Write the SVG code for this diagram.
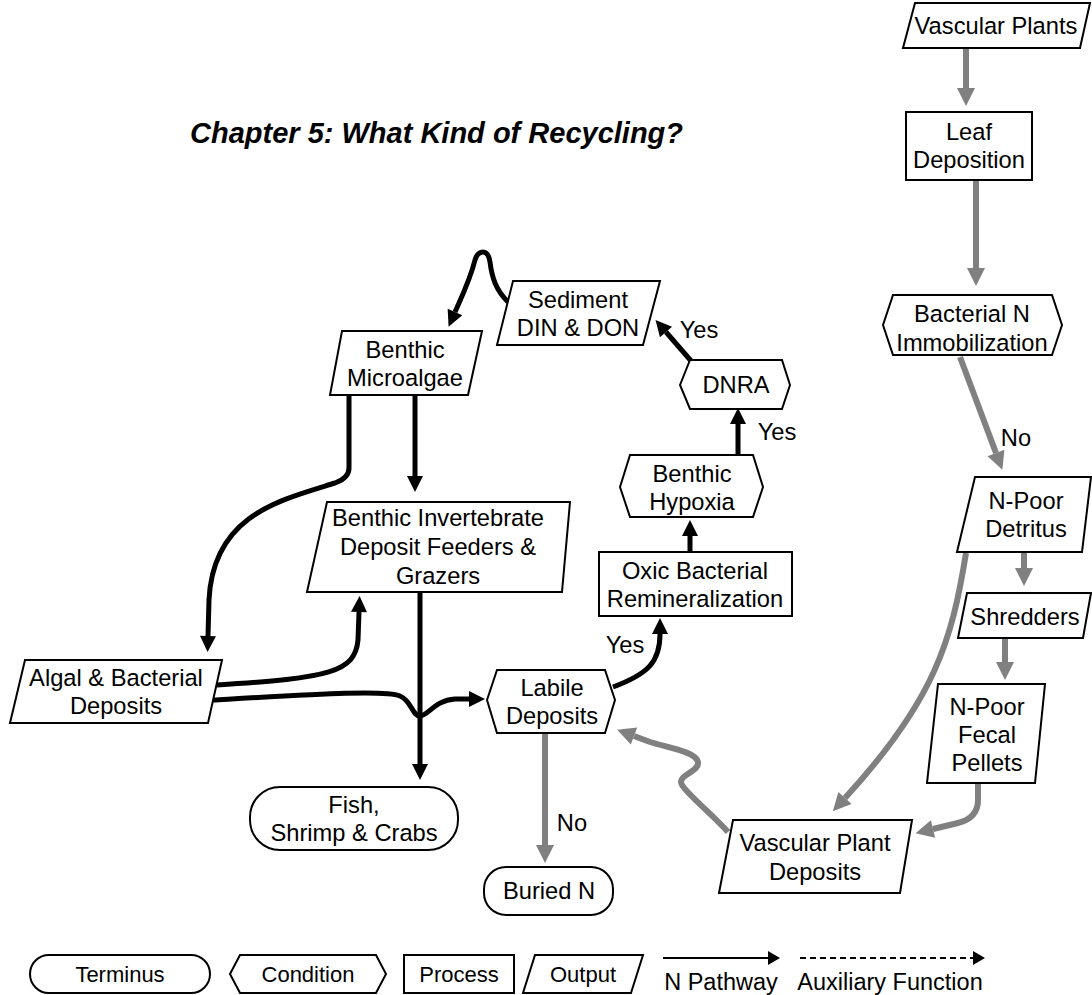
<svg xmlns="http://www.w3.org/2000/svg" width="1092" height="995" viewBox="0 0 1092 995">
  <style>
    .box { fill: #ffffff; stroke: #000000; stroke-width: 2; }
    .lbl { font-family: "Liberation Sans", Arial, sans-serif; font-size: 23.7px; fill: #000000; text-anchor: middle; }
    .lgd { font-family: "Liberation Sans", Arial, sans-serif; font-size: 22px; fill: #000000; text-anchor: middle; }
    .lgd2 { font-family: "Liberation Sans", Arial, sans-serif; font-size: 23.5px; fill: #000000; text-anchor: middle; }
    .title { font-family: "Liberation Sans", Arial, sans-serif; font-size: 29px; font-weight: bold; font-style: italic; fill: #000000; }
    .k { fill: none; stroke: #000000; stroke-width: 5; stroke-linejoin: round; }
    .g { fill: none; stroke: #808080; stroke-width: 6; stroke-linejoin: round; }
    .thin { fill: none; stroke: #000000; stroke-width: 2; }
  </style>
  <defs>
    <marker id="ak" markerUnits="userSpaceOnUse" markerWidth="18" markerHeight="18" viewBox="0 -9 17 18" refX="0" refY="0" orient="auto">
      <path d="M0,-8 L16,0 L0,8 z" fill="#000000"/>
    </marker>
    <marker id="ag" markerUnits="userSpaceOnUse" markerWidth="20" markerHeight="20" viewBox="0 -10 19 20" refX="0" refY="0" orient="auto">
      <path d="M0,-9 L18,0 L0,9 z" fill="#808080"/>
    </marker>
    <marker id="al" markerUnits="userSpaceOnUse" markerWidth="14" markerHeight="16" viewBox="0 -8 13 16" refX="0" refY="0" orient="auto">
      <path d="M0,-7 L12,0 L0,7 z" fill="#000000"/>
    </marker>
  </defs>

  <text class="title" x="190" y="143">Chapter 5: What Kind of Recycling?</text>

  <!-- connectors -->
  <g id="connectors">
    <!-- N pathway (black) -->
    <path class="k" marker-end="url(#ak)" d="M508,302 C496,290 492,278 490,262 C488,248 478,250 475,260 C470,280 462,296 455,312"/>
    <path class="k" marker-end="url(#ak)" d="M692,362 L666,332"/>
    <path class="k" marker-end="url(#ak)" d="M738,455 L738,424"/>
    <path class="k" marker-end="url(#ak)" d="M690,552 L690,536"/>
    <path class="k" marker-end="url(#ak)" d="M613,687 C648,674 660,662 660,634"/>
    <path class="k" marker-end="url(#ak)" d="M349,396 L349,468 Q349,478 335,483 C280,500 213,515 209,600 L208,636"/>
    <path class="k" marker-end="url(#ak)" d="M415,396 L415,476"/>
    <path class="k" marker-end="url(#ak)" d="M217,685 C330,678 355,672 358,640 L359,612"/>
    <path class="k" marker-end="url(#ak)" d="M420,593 L420,764"/>
    <path class="k" marker-end="url(#ak)" d="M213,700 C320,694 385,690 400,696 C412,701 412,716 420,716 C428,716 435,700 455,699 L469,699"/>
    <!-- vascular plant detritus (gray) -->
    <path class="g" marker-end="url(#ag)" d="M966,48 L966,88"/>
    <path class="g" marker-end="url(#ag)" d="M976,180 L976,268"/>
    <path class="g" marker-end="url(#ag)" d="M960,357 L996,453"/>
    <path class="g" marker-end="url(#ag)" d="M1024,553 L1024,568"/>
    <path class="g" marker-end="url(#ag)" d="M1005,638 L1005,662"/>
    <path class="g" marker-end="url(#ag)" d="M978,784 L978,800 Q978,818 958,823 L933,829"/>
    <path class="g" marker-end="url(#ag)" d="M966,553 C952,640 935,700 845,798"/>
    <path class="g" marker-end="url(#ag)" d="M728,832 C710,812 688,795 682,785 C676,775 700,772 698,762 C696,752 670,748 650,742 L634,736"/>
    <path class="g" marker-end="url(#ag)" d="M545,734 L545,845"/>
    <!-- branch labels -->
    <text class="lbl" x="699" y="338">Yes</text>
    <text class="lbl" x="777" y="440">Yes</text>
    <text class="lbl" x="625" y="653">Yes</text>
    <text class="lbl" x="1016" y="446">No</text>
    <text class="lbl" x="572" y="831">No</text>
  </g>

  <!-- nodes -->
  <g id="n-vascular-plants">
    <polygon class="box" points="915,3 1090,3 1080,48 903,48"/>
    <text class="lbl" x="996" y="34">Vascular Plants</text>
  </g>
  <g id="n-leaf-deposition">
    <rect class="box" x="906" y="112" width="126" height="68"/>
    <text class="lbl" x="969" y="140">Leaf</text>
    <text class="lbl" x="969" y="168">Deposition</text>
  </g>
  <g id="n-bacterial-immobilization">
    <polygon class="box" points="883,325 893,295 1052,295 1062,325 1052,355 893,355"/>
    <text class="lbl" x="972" y="322">Bacterial N</text>
    <text class="lbl" x="972" y="351">Immobilization</text>
  </g>
  <g id="n-npoor-detritus">
    <polygon class="box" points="975,477 1091,477 1082,552 957,552"/>
    <text class="lbl" x="1026" y="509">N-Poor</text>
    <text class="lbl" x="1026" y="537">Detritus</text>
  </g>
  <g id="n-shredders">
    <polygon class="box" points="967,593 1091,593 1083,638 958,638"/>
    <text class="lbl" x="1025" y="625">Shredders</text>
  </g>
  <g id="n-fecal-pellets">
    <polygon class="box" points="938,684 1045,684 1035,783 927,783"/>
    <text class="lbl" x="987" y="715">N-Poor</text>
    <text class="lbl" x="987" y="743">Fecal</text>
    <text class="lbl" x="987" y="771">Pellets</text>
  </g>
  <g id="n-vascular-plant-deposits">
    <polygon class="box" points="733,820 912,820 900,893 719,893"/>
    <text class="lbl" x="815" y="851">Vascular Plant</text>
    <text class="lbl" x="815" y="880">Deposits</text>
  </g>
  <g id="n-labile-deposits">
    <polygon class="box" points="487,700 497,670 605,670 615,700 605,733 497,733"/>
    <text class="lbl" x="552" y="696">Labile</text>
    <text class="lbl" x="552" y="724">Deposits</text>
  </g>
  <g id="n-buried-n">
    <rect class="box" x="484" y="867" width="129" height="48" rx="22"/>
    <text class="lbl" x="549" y="899">Buried N</text>
  </g>
  <g id="n-fish">
    <rect class="box" x="250" y="787" width="208" height="63" rx="30"/>
    <text class="lbl" x="354" y="813">Fish,</text>
    <text class="lbl" x="354" y="841">Shrimp &amp; Crabs</text>
  </g>
  <g id="n-algal-bacterial-deposits">
    <polygon class="box" points="25,660 222,660 208,723 10,723"/>
    <text class="lbl" x="116" y="686">Algal &amp; Bacterial</text>
    <text class="lbl" x="116" y="714">Deposits</text>
  </g>
  <g id="n-benthic-invertebrates">
    <polygon class="box" points="327,502 570,502 562,592 307,592"/>
    <text class="lbl" x="438" y="526">Benthic Invertebrate</text>
    <text class="lbl" x="438" y="555">Deposit Feeders &amp;</text>
    <text class="lbl" x="438" y="584">Grazers</text>
  </g>
  <g id="n-benthic-microalgae">
    <polygon class="box" points="342,331 482,331 468,395 330,395"/>
    <text class="lbl" x="405" y="358">Benthic</text>
    <text class="lbl" x="405" y="386">Microalgae</text>
  </g>
  <g id="n-sediment-din-don">
    <polygon class="box" points="513,281 660,281 643,345 497,345"/>
    <text class="lbl" x="578" y="308">Sediment</text>
    <text class="lbl" x="578" y="336">DIN &amp; DON</text>
  </g>
  <g id="n-dnra">
    <polygon class="box" points="680,385 690,360 782,360 790,385 782,409 690,409"/>
    <text class="lbl" x="736" y="393">DNRA</text>
  </g>
  <g id="n-benthic-hypoxia">
    <polygon class="box" points="620,487 630,455 753,455 763,487 753,517 630,517"/>
    <text class="lbl" x="692" y="482">Benthic</text>
    <text class="lbl" x="692" y="510">Hypoxia</text>
  </g>
  <g id="n-oxic-remineralization">
    <rect class="box" x="599" y="552" width="193" height="64"/>
    <text class="lbl" x="695" y="579">Oxic Bacterial</text>
    <text class="lbl" x="695" y="607">Remineralization</text>
  </g>

  <!-- key -->
  <g id="legend">
    <rect class="box" x="30" y="955" width="180" height="38" rx="19"/>
    <text class="lgd" x="120" y="982">Terminus</text>
    <polygon class="box" points="230,974 240,955 376,955 386,974 376,993 240,993"/>
    <text class="lgd" x="308" y="982">Condition</text>
    <rect class="box" x="404" y="955" width="110" height="38"/>
    <text class="lgd" x="459" y="982">Process</text>
    <polygon class="box" points="535,955 643,955 631,993 523,993"/>
    <text class="lgd" x="583" y="982">Output</text>
    <path class="thin" marker-end="url(#al)" d="M663,958 L768,958"/>
    <text class="lgd2" x="721" y="990">N Pathway</text>
    <path class="thin" stroke-dasharray="6,4" marker-end="url(#al)" d="M800,958 L973,958"/>
    <text class="lgd2" x="890" y="990">Auxiliary Function</text>
  </g>
</svg>
